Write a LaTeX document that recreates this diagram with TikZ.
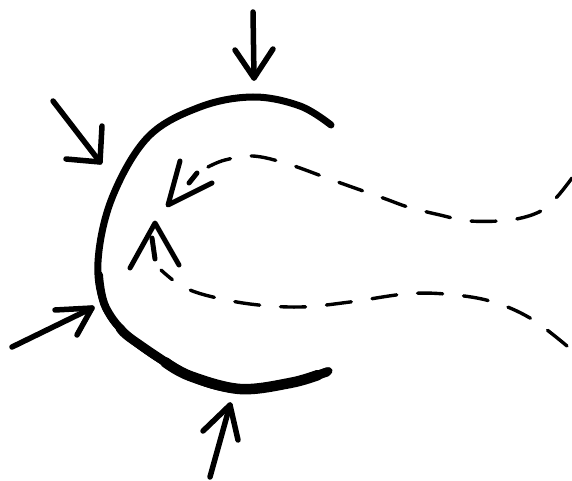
\documentclass[tikz,border=0pt]{standalone}
\begin{document}
\begin{tikzpicture}[x=1pt,y=-1pt,
  inarrow/.style={line width=5.5pt,line cap=round,line join=round},
  flowdash/.style={line width=3.4pt,line cap=round,dash pattern=on 25pt off 21pt},
  flowhead/.style={line width=5pt,line cap=round,line join=round},
  wall/.style={line width=7pt,line cap=round,line join=round}]
\useasboundingbox (0,0) rectangle (572,481);
% main C-shaped wall
\draw[wall] plot[smooth,tension=0.6] coordinates {(331,125) (300,106) (253,97) (200,107) (148,137) (112,198) (98,262) (106,308) (133,340) (190,376) (240,389) (290,383) (329,371)};
\draw[line width=8pt,line cap=round] plot[smooth,tension=0.6] coordinates {(99,275) (106,308) (133,340) (190,376) (240,389) (290,383) (328,371)};
\draw[line width=9pt,line cap=round] plot[smooth,tension=0.6] coordinates {(120,328) (133,340) (190,376) (240,389) (290,383) (327,372)};
\draw[line width=10.5pt,line cap=round] plot[smooth,tension=0.6] coordinates {(165,362) (190,376) (240,389) (290,383) (318,375)};
% inward arrows
\coordinate (tA) at (253,12); \coordinate (hA) at (254,78);
\coordinate (tB) at (53,101); \coordinate (hB) at (100,162);
\coordinate (tC) at (12,347); \coordinate (hC) at (92,308);
\coordinate (tD) at (210,477); \coordinate (hD) at (230,405);
\draw[inarrow] (tA) -- (hA);
\draw[inarrow] (235,50) -- (hA) -- (273,49);
\draw[inarrow] (tB) -- (hB);
\draw[inarrow] (102,126) -- (hB) -- (66,159);
\draw[inarrow] (tC) -- (hC);
\draw[inarrow] (55,310) -- (hC) -- (77,335);
\draw[inarrow] (tD) -- (hD);
\draw[inarrow] (203,431) -- (hD) -- (238,440);
% upper dashed flow
\coordinate (uTip) at (168,205);
\draw[flowdash] plot[smooth,tension=0.6] coordinates {(572,178) (556,198) (539,212) (510,220) (470,221) (440,215) (408,207) (383,198) (335,181) (288,164) (253,156) (225,160) (208,167)};
\draw[flowhead] (180,161) -- (uTip) -- (212,183);
\draw[flowhead] (197,173) -- (189,183);
% lower dashed flow
\coordinate (lTip) at (155,223);
\draw[flowdash] plot[smooth,tension=0.6] coordinates {(567,346) (530,318) (490,301) (445,294) (405,294) (350,302) (300,307) (250,304) (205,295) (180,285) (161,270)};
\draw[flowhead] (130,268) -- (lTip) -- (179,265);
\draw[flowhead] (152,238) -- (155,259);
\end{tikzpicture}
\end{document}
